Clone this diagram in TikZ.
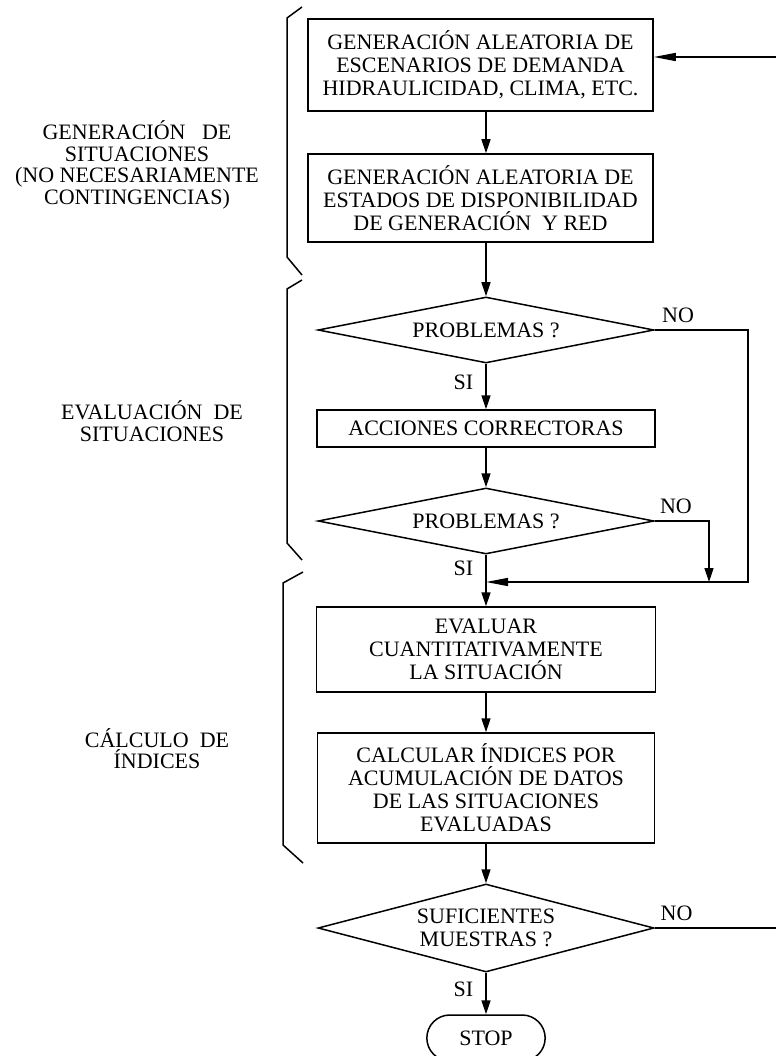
\documentclass[tikz,border=0pt]{standalone}
\usepackage{fontspec}
\setmainfont{Liberation Serif}
\usetikzlibrary{shapes.geometric,shapes.misc,arrows.meta}
\newcommand{\flowfont}{\fontsize{22}{23}\selectfont}
\newcommand{\sidefont}{\fontsize{22}{21.5}\selectfont}

\begin{document}
\begin{tikzpicture}[x=1pt,y=-1pt,line width=1.5pt,every node/.style={font=\flowfont},
  box/.style={draw,rectangle,align=center,inner sep=0pt},
  test/.style={draw,diamond,shape aspect=5,inner sep=0pt,align=center,minimum width=336pt},
  flow/.style={-{Triangle[length=14pt,width=9pt]}},
  back/.style={-{Triangle[length=22pt,width=8pt]}},
  tag/.style={inner sep=2pt},
  side/.style={align=center,font=\sidefont}]
  \useasboundingbox (0,0) rectangle (776,1056);
  % main column
  \node[box,minimum width=345pt,minimum height=92pt] (gen1) at (480.5,65) {GENERACIÓN ALEATORIA DE\\ESCENARIOS DE DEMANDA\\HIDRAULICIDAD, CLIMA, ETC.};
  \node[box,minimum width=345pt,minimum height=88pt] (gen2) at (480.5,198) {GENERACIÓN ALEATORIA DE\\ESTADOS DE DISPONIBILIDAD\\DE GENERACIÓN\ \ Y RED};
  \node[test,minimum height=66pt] (prob1) at (486,330) {PROBLEMAS ?};
  \node[box,minimum width=338pt,minimum height=37pt] (acc) at (486,428.5) {ACCIONES CORRECTORAS};
  \node[test,minimum height=66pt] (prob2) at (486,521) {PROBLEMAS ?};
  \node[box,minimum width=339pt,minimum height=85pt] (eval) at (486,649.5) {EVALUAR\\CUANTITATIVAMENTE\\LA SITUACIÓN};
  \node[box,minimum width=337pt,minimum height=110pt] (calc) at (486,788) {CALCULAR ÍNDICES POR\\ACUMULACIÓN DE DATOS\\DE LAS SITUACIONES\\EVALUADAS};
  \node[test,shape aspect=4,minimum height=88pt] (suf) at (486,928) {SUFICIENTES\\MUESTRAS ?};
  \node[draw,rounded rectangle,minimum width=125pt,minimum height=46pt] (stop) at (486,1038) {STOP};
  % side labels
  \node[side] (sitgen) at (137,165) {GENERACIÓN\ \ \ DE\\SITUACIONES\\(NO NECESARIAMENTE\\CONTINGENCIAS)};
  \node[side] (siteval) at (152,421) {EVALUACIÓN\ \ DE\\SITUACIONES};
  \node[side] (calcidx) at (157,748.5) {CÁLCULO\ \ DE\\ÍNDICES};
  % brackets
  \draw (302,7) -- (287,18) -- (287,257) -- (302,275);
  \draw (302,280) -- (287,289) -- (287,543) -- (302,560);
  \draw (303,572) -- (283,583) -- (283,845) -- (303,863);
  % turning points
  \coordinate (r1) at (748,330);
  \coordinate (r2) at (709,521);
  \coordinate (join) at (486,582);
  \coordinate (loopin) at (776,57);
  \coordinate (loopout) at (776,928);
  % connectors
  \draw[flow] (gen1.south -| prob1.north) -- (gen2.north -| prob1.north);
  \draw[flow] (gen2.south -| prob1.north) -- (prob1.north);
  \draw[flow] (prob1.south) -- node[tag,left=10pt,pos=0.4]{SI} (acc.north);
  \draw[flow] (acc.south) -- (prob2.north);
  \draw[back] (prob1.east) -- node[tag,above=5pt,pos=0.25]{NO} (r1) -- (r1 |- join) -- (join);
  \draw[flow] (prob2.east) -- node[tag,above=5pt,pos=0.39]{NO} (r2) -- (r2 |- join);
  \draw[flow] (prob2.south) -- node[tag,left=10pt]{SI} (join) -- (eval.north);
  \draw[flow] (eval.south) -- (calc.north);
  \draw[flow] (calc.south) -- (suf.north);
  \draw (suf.east) -- node[tag,above=5pt,pos=0.18]{NO} (loopout);
  \draw[back] (loopin) -- (loopin -| gen1.east);
  \draw[flow] (suf.south) -- node[tag,left=10pt,pos=0.4]{SI} (stop.north);
\end{tikzpicture}
\end{document}
